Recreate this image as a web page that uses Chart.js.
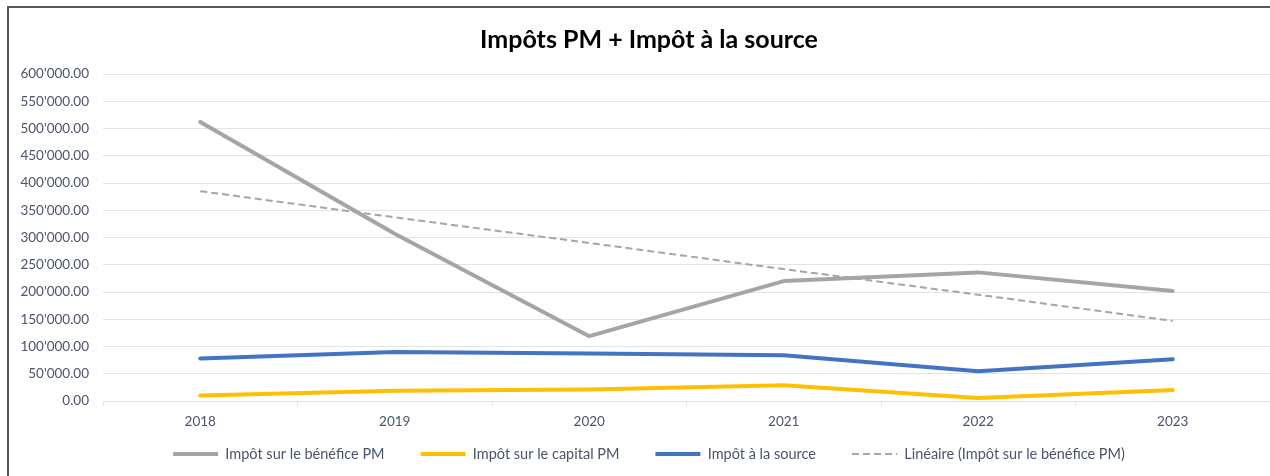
<!DOCTYPE html>
<html>
<head>
<meta charset="utf-8">
<script src="https://cdn.jsdelivr.net/npm/chart.js@4.4.1/dist/chart.umd.min.js"></script>
<style>
  html, body { margin: 0; padding: 0; background: #ffffff; overflow: hidden; width: 1270px; height: 476px; }
  #frame { position: absolute; left: 7px; top: 6px; width: 1400px; height: 600px;
           border-left: 2px solid #595959; border-top: 2px solid #595959; box-sizing: border-box; }
  #wrap { position: absolute; left: 0; top: 0; width: 1309px; height: 476px; }
</style>
</head>
<body>
<div id="frame"></div>
<div id="wrap"><canvas id="c" width="1309" height="476"></canvas></div>
<script>
const categories = ['2018', '2019', '2020', '2021', '2022', '2023'];
const impotBenefice = [512000, 307000, 119000, 220000, 236000, 202000];
const impotCapital = [10000, 19000, 21000, 29000, 5500, 20000];
const impotSource = [78000, 90000, 87000, 84000, 54500, 76500];
const lineaireBenefice = [385000, 337000, 290000, 242000, 195000, 147000];
const seriesNames = ['Impôt sur le bénéfice PM', 'Impôt sur le capital PM', 'Impôt à la source', 'Linéaire (Impôt sur le bénéfice PM)'];
const titleText = 'Impôts PM + Impôt à la source';

function swiss(v) {
  const parts = Math.abs(v).toFixed(2).split('.');
  const int = parts[0].replace(/\B(?=(\d{3})+(?!\d))/g, "'");
  return (v < 0 ? '-' : '') + int + '.' + parts[1];
}

const FONT = 'Lato, "Open Sans", sans-serif';
const TXT = '#4a5568';
const GRID = '#dfe3ea';

// dashed legend sample
const dashSample = document.createElement('canvas');
dashSample.width = 45; dashSample.height = 4;
(function () {
  const g = dashSample.getContext('2d');
  g.strokeStyle = '#A5A5A5'; g.lineWidth = 2; g.setLineDash([7, 4]);
  g.beginPath(); g.moveTo(0, 2); g.lineTo(45, 2); g.stroke();
})();

new Chart(document.getElementById('c'), {
  type: 'line',
  data: {
    labels: categories,
    datasets: [
      { label: seriesNames[0], data: impotBenefice, borderColor: '#A5A5A5', backgroundColor: '#A5A5A5', borderWidth: 4, pointRadius: 0, tension: 0, borderCapStyle: 'round', borderJoinStyle: 'round' },
      { label: seriesNames[1], data: impotCapital, borderColor: '#FFC000', backgroundColor: '#FFC000', borderWidth: 4, pointRadius: 0, tension: 0, borderCapStyle: 'round', borderJoinStyle: 'round' },
      { label: seriesNames[2], data: impotSource, borderColor: '#4472C4', backgroundColor: '#4472C4', borderWidth: 4, pointRadius: 0, tension: 0, borderCapStyle: 'round', borderJoinStyle: 'round' },
      { label: seriesNames[3], data: lineaireBenefice, borderColor: '#A5A5A5', backgroundColor: '#A5A5A5', borderWidth: 2, borderDash: [7, 4], pointRadius: 0, tension: 0, borderCapStyle: 'butt' }
    ]
  },
  options: {
    responsive: false,
    animation: false,
    devicePixelRatio: 1,
    layout: { padding: { left: 28, right: 39, top: 0, bottom: 4.75 } },
    plugins: {
      tooltip: { enabled: false },
      title: {
        display: true, text: titleText, color: '#000000',
        font: { family: FONT, size: 25, weight: 'bold', lineHeight: 1.2 },
        padding: { top: 25, bottom: 19 }
      },
      legend: {
        display: true, position: 'bottom',
        labels: {
          usePointStyle: true, pointStyle: 'line', pointStyleWidth: 45, boxHeight: 10,
          padding: 36, color: TXT,
          font: { family: FONT, size: 14.5 },
          generateLabels: (chart) => {
            const items = Chart.defaults.plugins.legend.labels.generateLabels(chart);
            items.sort((a, b) => a.datasetIndex - b.datasetIndex);
            items.forEach((it) => { if (it.datasetIndex === 3) it.pointStyle = dashSample; });
            return items;
          }
        }
      }
    },
    scales: {
      x: {
        type: 'category',
        offset: true,
        grid: { display: true, drawOnChartArea: false, drawTicks: true, tickLength: 5, offset: true, color: GRID, lineWidth: 1 },
        border: { display: true, color: GRID, width: 1 },
        ticks: { color: TXT, font: { family: FONT, size: 13.5 }, padding: 8, maxRotation: 0 },
        afterFit: (s) => { s.height = 9.75; s._computeLabelArea = () => undefined; }
      },
      y: {
        min: 0, max: 600000,
        grid: { color: GRID, lineWidth: 1, drawTicks: false },
        border: { display: false },
        ticks: { stepSize: 50000, color: TXT, font: { family: FONT, size: 13.5 }, padding: 14, callback: (v) => swiss(v) },
        afterFit: (s) => { s.width = 75; s._computeLabelArea = () => undefined; }
      }
    }
  }
});
</script>
</body>
</html>
